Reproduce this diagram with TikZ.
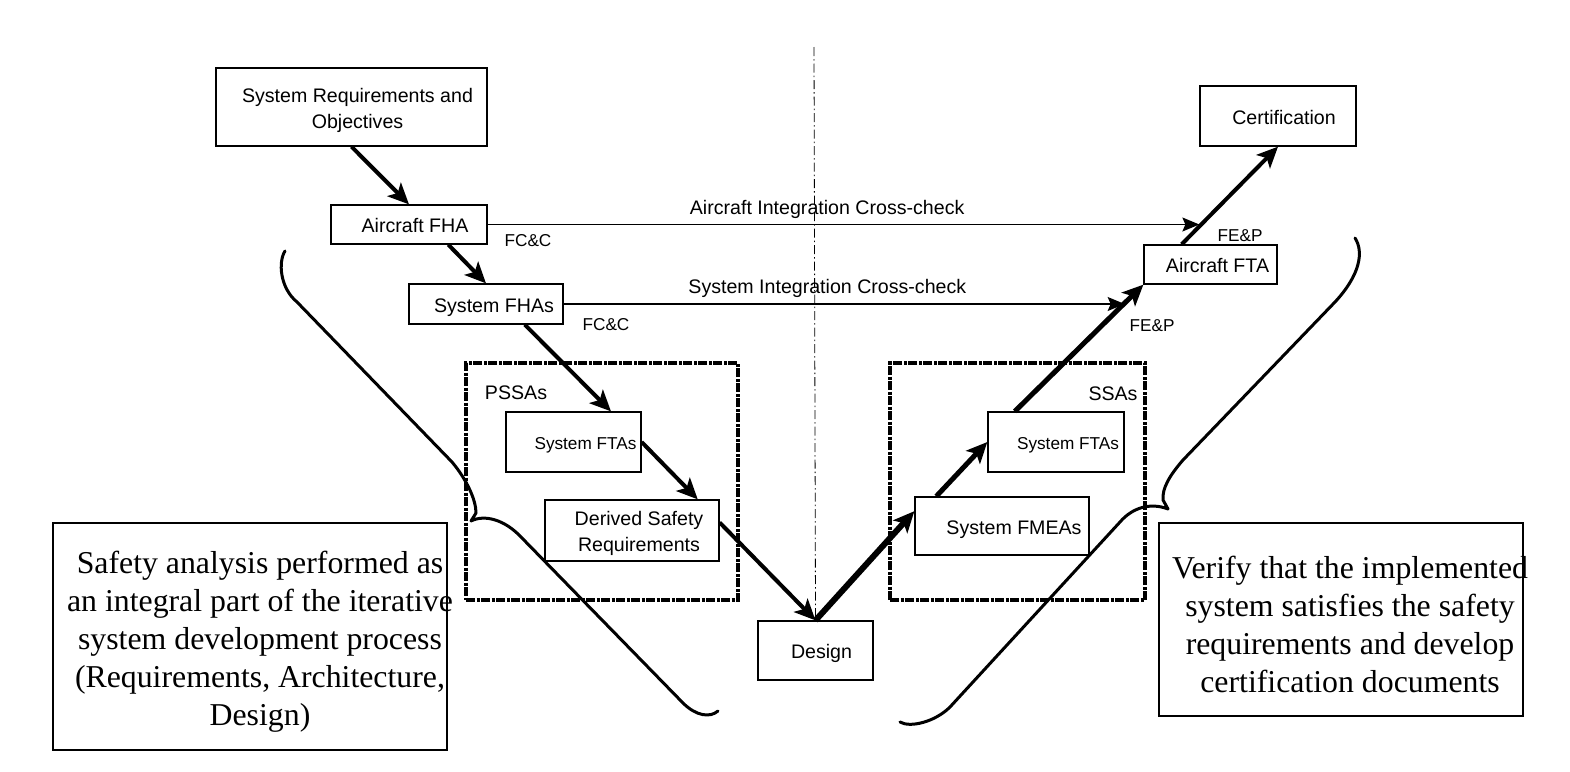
\documentclass[tikz,border=0pt]{standalone}
\usepackage{fontspec}
\setmainfont{Liberation Serif}
\setsansfont{Liberation Sans}
\usetikzlibrary{arrows.meta,calc}

% two centred lines, set a little low in their box
\newcommand{\twolines}[2]{\raisebox{-8pt}[0pt][0pt]{\begin{tabular}{@{}c@{}}#1\\#2\end{tabular}}}

\tikzset{
  twobox/.style={draw, line width=1.3pt, inner sep=0pt,
    font=\sffamily\fontsize{19.6}{26}\selectfont},
  box/.style={twobox, text height=16pt, text depth=0pt},
  smallbox/.style={twobox, text height=14pt, text depth=0pt,
    font=\sffamily\fontsize{17.2}{20}\selectfont},
  tag/.style={inner sep=0pt, font=\sffamily\fontsize{17.2}{20}\selectfont},
  note/.style={draw, line width=2.4pt, inner sep=0pt},
  notetext/.style={inner sep=0pt, align=center, font=\fontsize{31.8}{38}\selectfont},
  frame/.style={draw, line width=3.5pt, inner sep=0pt,
    dash pattern=on 9pt off 1.5pt on 3pt off 1.5pt},
  flow/.style={line width=4pt, -{Stealth[length=21pt,width=19pt,inset=5pt]}},
  check/.style={line width=1.3pt, -{Stealth[length=17pt,width=14pt,inset=3pt]}},
  brace/.style={line width=3pt, line cap=round, line join=round},
}

\begin{document}
\begin{tikzpicture}[x=1pt, y=-1pt]
  \useasboundingbox (0,0) rectangle (1570,771);

  % --- PSSA / SSA frames ---
  \node[frame, minimum width=272pt, minimum height=237pt] (pssa) at (602,481.5) {};
  \node[frame, minimum width=255pt, minimum height=237pt] (ssa) at (1017.5,481.5) {};
  \node[tag, font=\sffamily\fontsize{19.6}{23}\selectfont] (pssalbl) at (516,393) {PSSAs};
  \node[tag, font=\sffamily\fontsize{19.6}{23}\selectfont] (ssalbl) at (1113,394) {SSAs};

  % --- left branch ---
  \node[twobox, minimum width=271pt, minimum height=78pt] (sysreq) at (351.5,107)
    {\twolines{\hspace*{12pt}System Requirements and}{\hspace*{12pt}Objectives}};
  \node[box, minimum width=156pt, minimum height=39pt] (afha) at (409,224.5) {\hspace*{12pt}Aircraft FHA};
  \node[box, minimum width=154pt, minimum height=40pt] (sfha) at (486,304) {\hspace*{16pt}System FHAs};
  \node[smallbox, minimum width=135pt, minimum height=60pt] (lfta) at (573.5,442) {\hspace*{24pt}System FTAs};
  \node[twobox, minimum width=174pt, minimum height=61pt] (dsr) at (632,530.5)
    {\twolines{\hspace*{14pt}Derived Safety}{\hspace*{14pt}Requirements}};

  % --- bottom of the V ---
  \node[box, minimum width=115pt, minimum height=59pt] (design) at (815.5,650.5) {\hspace*{12pt}Design};

  % --- right branch ---
  \node[box, minimum width=174pt, minimum height=58pt] (fmea) at (1002,526) {\hspace*{24pt}System FMEAs};
  \node[smallbox, minimum width=136pt, minimum height=60pt] (rfta) at (1056,442) {\hspace*{24pt}System FTAs};
  \node[box, minimum width=133pt, minimum height=39pt] (afta) at (1210.5,264.5) {\hspace*{14pt}Aircraft FTA};
  \node[box, minimum width=156pt, minimum height=60pt] (cert) at (1278,116) {\hspace*{12pt}Certification};

  % --- flow labels ---
  \node[tag] (fcc1) at (528,241) {FC\&C};
  \node[tag] (fcc2) at (606,325) {FC\&C};
  \node[tag] (fep1) at (1152,326) {FE\&P};
  \node[tag] (fep2) at (1240,236) {FE\&P};

  % --- notes ---
  \node[note, minimum width=394pt, minimum height=227pt] (lnote) at (250,636.5) {};
  \node[notetext] (lnotetxt) at (260,641.5) {Safety analysis performed as\\
    an integral part of the iterative\\system development process\\
    (Requirements, Architecture,\\Design)};
  \node[note, minimum width=364pt, minimum height=193pt] (rnote) at (1341,619.5) {};
  \node[notetext] (rnotetxt) at (1350,624) {Verify that the implemented\\
    system satisfies the safety\\requirements and develop\\certification documents};

  % --- centre line ---
  \coordinate (axistop) at (814,47);
  \draw[line width=0.8pt, dash pattern=on 9pt off 3pt on 1.5pt off 3pt] (axistop) -- (design.north);

  % --- cross-checks ---
  \draw[check] (afha.east) -- node[above, pos=0.477, yshift=2pt, font=\sffamily\fontsize{19.6}{23}\selectfont]
    {Aircraft Integration Cross-check} (cert.west |- afha.east);
  \draw[check] (sfha.east) -- node[above, pos=0.47, yshift=2pt, font=\sffamily\fontsize{19.6}{23}\selectfont]
    {System Integration Cross-check} (rfta.east |- sfha.east);

  % --- descending flow ---
  \draw[flow] (sysreq.south) -- (afha.north);
  \draw[flow] ($(afha.south)!0.5!(afha.south east)$) -- (sfha.north);
  \draw[flow] ($(sfha.south)!0.5!(sfha.south east)$) -- ($(lfta.north)!0.55!(lfta.north east)$);
  \draw[flow] (lfta.east) -- ($(dsr.north)!0.75!(dsr.north east)$);
  \draw[flow] ([yshift=8pt]dsr.east) -- (design.north);

  % --- ascending flow ---
  \draw[flow, line width=6pt] (design.north) -- ($(fmea.west)!0.5!(fmea.north west)$);
  \draw[flow, line width=5pt] ($(fmea.north west)!0.25!(fmea.north)$) -- (rfta.west);
  \draw[flow, line width=5pt] ($(rfta.north west)!0.4!(rfta.north)$) -- (afta.south west);
  \draw[flow] ($(afta.north west)!0.57!(afta.north)$) -- (cert.south);

  % --- braces ---
  \draw[brace] (285,251) .. controls (278,262) and (280,288) .. (297,302)
    -- (452,462) .. controls (467,480) and (476,500) .. (476,513) -- (471,521)
    .. controls (485,514) and (505,520) .. (521,537)
    -- (683,703) .. controls (696,716) and (710,718) .. (718,711);
  \draw[brace] (1355,238) .. controls (1364,252) and (1360,275) .. (1335,302)
    -- (1183,460) .. controls (1170,475) and (1162,488) .. (1163,500) -- (1168,509)
    .. controls (1150,502) and (1132,508) .. (1120,522)
    -- (950,707) .. controls (935,722) and (910,728) .. (900,722);
\end{tikzpicture}
\end{document}
